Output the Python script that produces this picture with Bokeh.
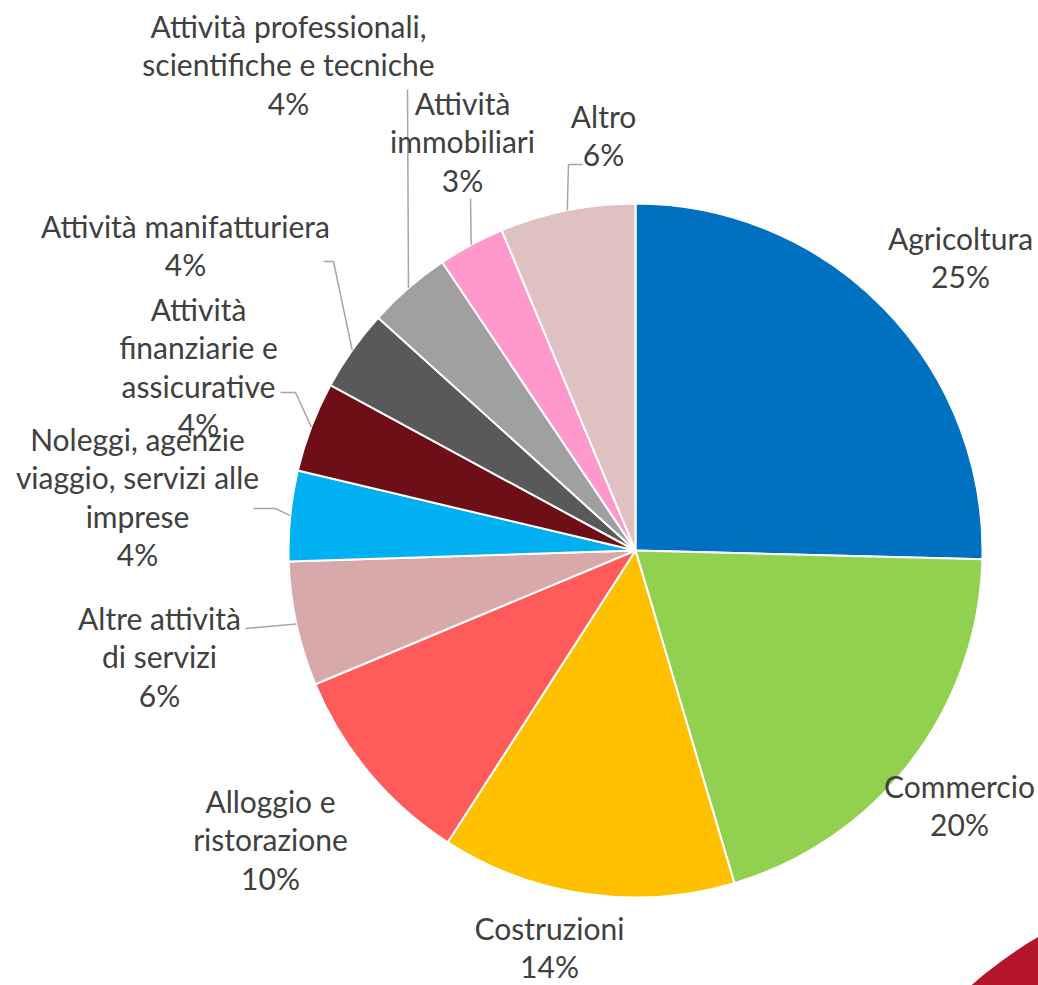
import math
from bokeh.plotting import figure
from bokeh.models import Range1d, ColumnDataSource
from bokeh.core.properties import value
from bokeh.embed import file_html
from bokeh.resources import INLINE

# ---- data ----
categories = [
    "Agricoltura", "Commercio", "Costruzioni", "Alloggio e ristorazione",
    "Altre attività di servizi", "Noleggi, agenzie viaggio, servizi alle imprese",
    "Attività finanziarie e assicurative", "Attività manifatturiera",
    "Attività professionali, scientifiche e tecniche", "Attività immobiliari", "Altro",
]
shares = [25.4, 20.0, 13.7, 9.6, 5.8, 4.2, 4.2, 3.8, 3.9, 3.1, 6.3]
colors = ["#0070C0", "#92D050", "#FFC000", "#FF5B5B", "#D8A9AA", "#00B0F0",
          "#6E0E17", "#595959", "#A0A0A0", "#FF99CC", "#E0C1C1"]

# label wrapping (display)
label_lines = [
    ["Agricoltura"], ["Commercio"], ["Costruzioni"], ["Alloggio e", "ristorazione"],
    ["Altre attività", "di servizi"], ["Noleggi, agenzie", "viaggio, servizi alle", "imprese"],
    ["Attività", "finanziarie e", "assicurative"], ["Attività manifatturiera"],
    ["Attività professionali,", "scientifiche e tecniche"], ["Attività", "immobiliari"], ["Altro"],
]

# ---- layout (reference pixel coordinates) ----
W, H = 1038, 985
CX, CY, R = 635, 550, 347
label_anchor = [  # centre x, first baseline y
    (960, 247), (959, 795), (549, 937), (270, 810), (159, 627), (137, 448),
    (198, 318), (185, 235), (288, 35), (462, 112), (603, 125),
]
TEXT_DY = -10
LINE_H = 38.5
leader_start = {  # points from label side, ending at slice edge (computed)
    4: [(245, 628)],
    5: [(253, 508), (275, 508)],
    6: [(280, 392), (295, 392)],
    7: [(323, 261), (333, 261)],
    8: [(407, 89)],
    9: [(470, 198)],
    10: [(582, 164), (568, 164)],
}

FONT = "Lato"
FSIZE = "30px"
TCOL = "#404040"


def Y(py):
    return H - py


p = figure(width=W, height=H, x_range=Range1d(0, W), y_range=Range1d(0, H),
           output_backend="svg", toolbar_location=None, min_border=0)
p.axis.visible = False
p.grid.visible = False
p.outline_line_color = None
p.background_fill_color = "white"
p.border_fill_color = "white"

# decoration in bottom-right corner
p.circle(x=[1250], y=[Y(1300)], radius=421, fill_color="#B5152B", line_color=None)

total = sum(shares)
fr = [s / total for s in shares]
cum = [0.0]
for f in fr:
    cum.append(cum[-1] + f)
start_a = [math.pi / 2 - 2 * math.pi * cum[i + 1] for i in range(len(fr))]
end_a = [math.pi / 2 - 2 * math.pi * cum[i] for i in range(len(fr))]

src = ColumnDataSource(dict(start=start_a, end=end_a, color=colors, cat=categories))
p.wedge(x=CX, y=Y(CY), radius=R, start_angle="start", end_angle="end",
        fill_color="color", line_color="white", line_width=2, source=src)

# leader lines
for i, pts in leader_start.items():
    mid = (cum[i] + cum[i + 1]) / 2 * 2 * math.pi
    ex = CX + R * math.sin(mid)
    ey = CY - R * math.cos(mid)
    xs = [pt[0] for pt in pts] + [ex]
    ys = [Y(pt[1]) for pt in pts] + [Y(ey)]
    p.line(xs, ys, line_color="#A6A6A6", line_width=1.5)

# labels
tx, ty, tt = [], [], []
for i, lines in enumerate(label_lines):
    ax, ay = label_anchor[i]
    full = lines + [f"{round(shares[i] / total * 100)}%"]
    for k, ln in enumerate(full):
        tx.append(ax)
        ty.append(Y(ay + TEXT_DY + k * LINE_H))
        tt.append(ln)
p.text(x=tx, y=ty, text=tt, text_font=value(FONT), text_font_size=FSIZE,
       text_color=TCOL, text_align="center", text_baseline="alphabetic")

open("out.html", "w").write(file_html(p, INLINE))
